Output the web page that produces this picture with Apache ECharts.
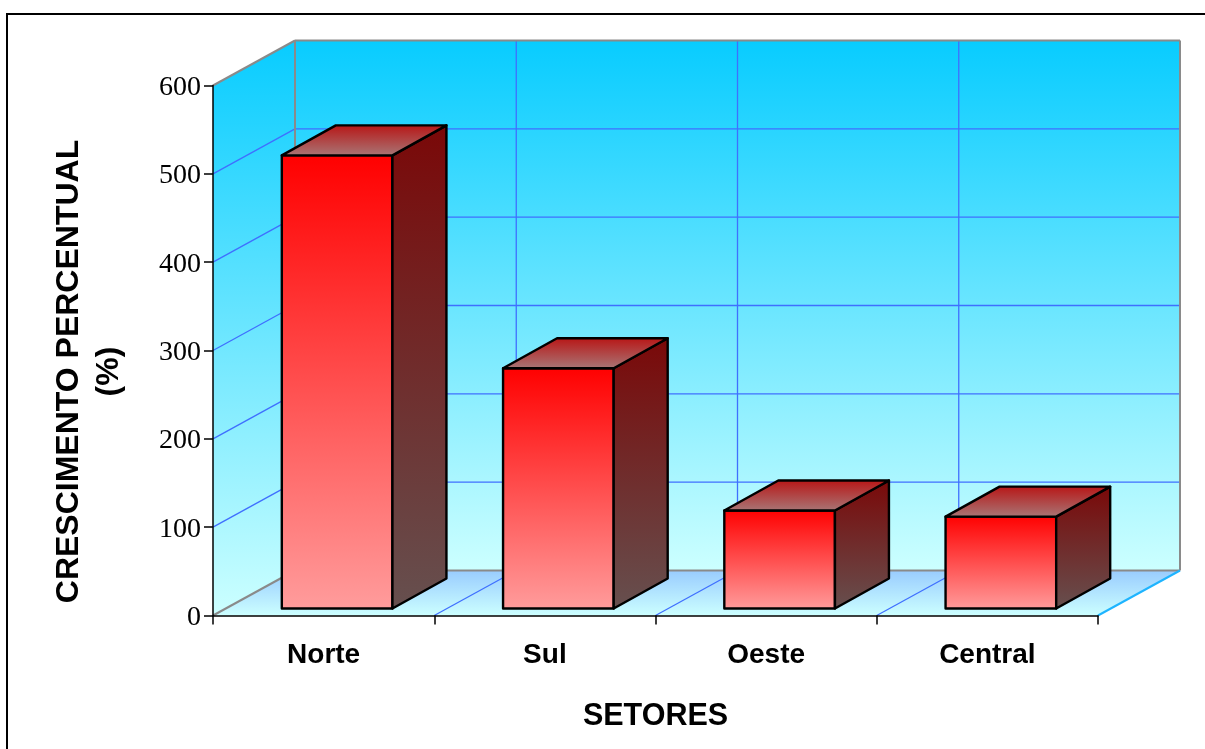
<!DOCTYPE html>
<html><head><meta charset="utf-8">
<style>html,body{margin:0;padding:0;background:#fff}#c{width:1205px;height:749px}</style>
<script src="https://cdn.jsdelivr.net/npm/echarts@6/dist/echarts.min.js"></script>
</head><body><div id="c"></div>
<script>
const categories = ['Norte', 'Sul', 'Oeste', 'Central'];
const crescimento = [513, 272, 111, 104];
const yTicks = [0, 100, 200, 300, 400, 500, 600];
const xTitle = 'SETORES';
const yTitle = 'CRESCIMENTO PERCENTUAL\n(%)';

const DX = 82, DY = -45;         // room depth
const BDX = 54, BDY = -30;       // bar depth
const OX = 13.5, OY = -7;        // bar offset from the front edge
const grad = (a, b) => ({type:'linear', x:0, y:0, x2:0, y2:1, colorStops:[{offset:0,color:a},{offset:1,color:b}]});
const poly = (points, style) => ({type:'polygon', shape:{points}, style});
const line = (x1, y1, x2, y2, stroke, lineWidth) => ({type:'line', shape:{x1,y1,x2,y2}, style:{stroke, lineWidth, fill:null}});
const GRID = '#3f6fff', EDGE = '#8a8a8a';

function renderRoom(params, api) {
  const last = categories.length - 1;
  const half = api.size([1, 0])[0] / 2;
  const x0 = api.coord([0, 0])[0] - half, x1 = api.coord([last, 0])[0] + half;
  const y0 = api.coord([0, yTicks[0]])[1], yT = api.coord([0, yTicks[yTicks.length - 1]])[1];
  const kids = [];
  kids.push(poly([[x0+DX,yT+DY],[x1+DX,yT+DY],[x1+DX,y0+DY],[x0+DX,y0+DY]], {fill:grad('#08ccff','#ccffff')}));
  kids.push(poly([[x0,yT],[x0+DX,yT+DY],[x0+DX,y0+DY],[x0,y0]], {fill:grad('#08ccff','#ccffff')}));
  kids.push(poly([[x0,y0],[x0+DX,y0+DY],[x1+DX,y0+DY],[x1,y0]], {fill:grad('#99ccff','#ccffff')}));
  yTicks.slice(1, -1).forEach(v => {
    const y = api.coord([0, v])[1];
    kids.push(line(x0, y, x0+DX, y+DY, GRID, 1.3));
    kids.push(line(x0+DX, y+DY, x1+DX, y+DY, GRID, 1.3));
  });
  categories.slice(1).forEach((c, i) => {
    const x = api.coord([i + 1, 0])[0] - half;
    kids.push(line(x+DX, yT+DY, x+DX, y0+DY, GRID, 1.3));
    kids.push(line(x, y0, x+DX, y0+DY, GRID, 1.3));
  });
  kids.push(line(x0, yT, x0+DX, yT+DY, EDGE, 2));
  kids.push(line(x0+DX, yT+DY, x1+DX, yT+DY, EDGE, 2));
  kids.push(line(x0+DX, yT+DY, x0+DX, y0+DY, EDGE, 2));
  kids.push(line(x1+DX, yT+DY, x1+DX, y0+DY, EDGE, 2));
  kids.push(line(x0+DX, y0+DY, x1+DX, y0+DY, EDGE, 2));
  kids.push(line(x0, y0, x0+DX, y0+DY, EDGE, 2));
  kids.push(line(x1, y0, x1+DX, y0+DY, '#1eb4ff', 2));
  return {type:'group', children:kids};
}

function renderBar(params, api) {
  const i = api.value(0), v = api.value(1);
  const w = api.size([1, 0])[0] * 0.5;
  const b = api.coord([i, 0]), t = api.coord([i, v]);
  const l = b[0] + OX - w/2, r = l + w, yb = b[1] + OY, yt = t[1] + OY;
  const s = {stroke:'#000', lineWidth:2.4, lineJoin:'round'};
  return {type:'group', children:[
    poly([[l,yt],[r,yt],[r,yb],[l,yb]], {...s, fill:grad('#ff0000','#ff9c9c')}),
    poly([[r,yt],[r+BDX,yt+BDY],[r+BDX,yb+BDY],[r,yb]], {...s, fill:grad('#7a0808','#66504f')}),
    poly([[l,yt],[l+BDX,yt+BDY],[r+BDX,yt+BDY],[r,yt]], {...s, fill:grad('#b81414','#a87878')})
  ]};
}

const chart = echarts.init(document.getElementById('c'), null, {renderer:'canvas'});
chart.setOption({
  animation:false,
  backgroundColor:'#ffffff',
  grid:{left:213, top:85.5, width:885, height:530, containLabel:false, outerBoundsMode:'none'},
  graphic:[{type:'polyline', shape:{points:[[7,749],[7,14],[1205,14]]}, style:{stroke:'#000', lineWidth:2, fill:null}}],
  xAxis:{type:'category', data:categories, z:5,
    name:xTitle, nameLocation:'middle', nameGap:86,
    nameTextStyle:{fontFamily:'Liberation Sans', fontWeight:'bold', fontSize:30.5, color:'#000'},
    axisLine:{lineStyle:{color:'#000', width:1.5}},
    axisTick:{show:true, length:9, lineStyle:{color:'#000', width:1.5}},
    axisLabel:{margin:26, fontFamily:'Liberation Sans', fontWeight:'bold', fontSize:28, color:'#000'}},
  yAxis:{type:'value', min:0, max:600, interval:100, z:5,
    name:yTitle, nameLocation:'middle', nameGap:84,
    nameTextStyle:{fontFamily:'Liberation Sans', fontWeight:'bold', fontSize:32, color:'#000', lineHeight:40, padding:[0,42,0,0]},
    splitLine:{show:false},
    axisLine:{show:true, lineStyle:{color:'#000', width:1.5}},
    axisTick:{show:true, length:9, lineStyle:{color:'#000', width:1.5}},
    axisLabel:{margin:12, verticalAlign:'top', lineHeight:4, fontFamily:'Liberation Serif', fontSize:28, color:'#000'}},
  series:[
    {type:'custom', name:'room', silent:true, z:1, clip:false, renderItem:renderRoom, data:[[0,0]], encode:{x:0,y:1}},
    {type:'custom', name:'Crescimento', silent:true, z:2, clip:false, renderItem:renderBar,
      data:categories.map((c,i)=>[i,crescimento[i]]), encode:{x:0,y:1}}
  ]
});
</script></body></html>
